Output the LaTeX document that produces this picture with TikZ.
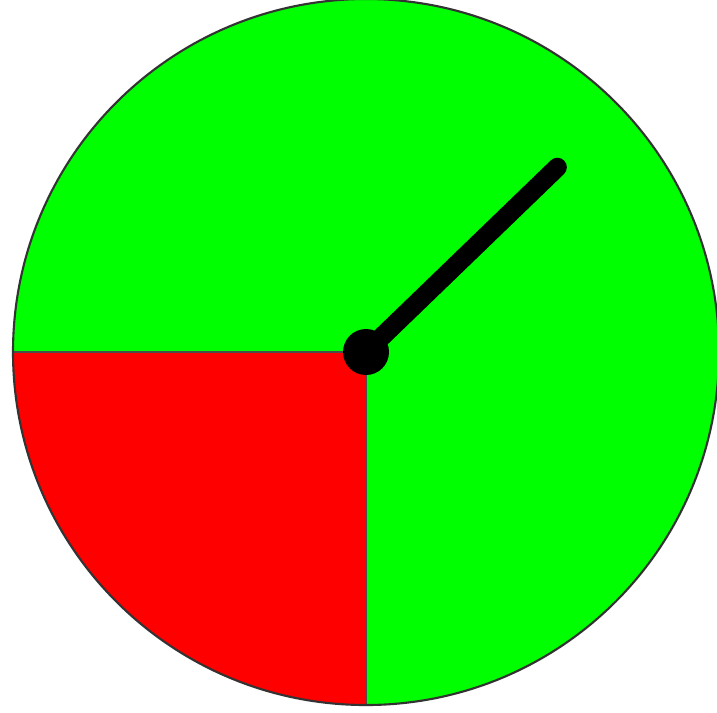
\documentclass[tikz,border=0pt]{standalone}
\usepackage{xcolor}
\usepackage{tikz}
\usetikzlibrary{calc}

\definecolor{spingreen}{RGB}{0,255,0}
\definecolor{spinred}{RGB}{255,0,0}

\begin{document}
\begin{tikzpicture}[
    sector/.style={draw=black!70, line width=0.4pt},
    needle/.style={line width=5.4pt, line cap=round, black},
    hub/.style={fill=black}
]
\useasboundingbox (0,0) rectangle (7.17,7.12);

% --- Spinner face ---
\coordinate (center) at (3.66,3.60);
\coordinate (tip) at ($(center)+(44:2.66)$);
\fill[spingreen] (center) circle (3.53);
\fill[spinred] (center) -- ++(180:3.53) arc (180:270:3.53) -- cycle;
\draw[sector] (center) -- ++(180:3.53);
\draw[sector] (center) -- ++(270:3.53);
\draw[black!80, line width=0.6pt] (center) circle (3.53);

% --- Needle ---
\draw[needle] (center) -- (tip);
\fill[hub] (center) circle (0.23);

\end{tikzpicture}
\end{document}
